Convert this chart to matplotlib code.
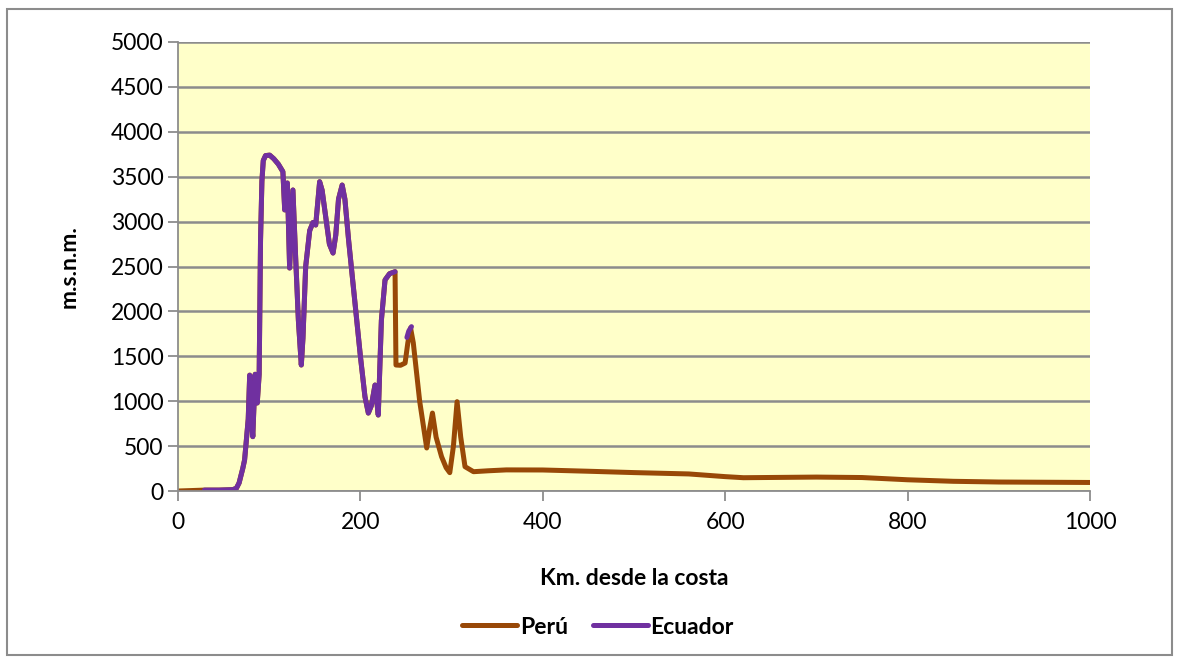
import numpy as np
import matplotlib
matplotlib.use('Agg')
from matplotlib import pyplot as plt
from matplotlib.patches import Rectangle

plt.rcParams['font.family'] = ['Lato', 'DejaVu Sans']

# Ecuador profile (km, m.s.n.m.)
ecu_km = [29, 45, 60, 64, 67, 71, 73, 75, 77, 78.6, 80, 82, 84.6, 86.9, 89, 90.5, 92, 93.5, 96, 100.5, 105, 110, 115,
          117, 117.6, 119.9, 122.4, 126, 129, 132, 135.2, 137, 140, 144.4, 148, 151, 155.3, 158, 162, 166, 170, 173,
          176, 180, 183, 187, 193, 200, 205, 208.7, 212, 216, 219.6, 223, 227, 232, 238]
ecu_m = [10, 10, 15, 30, 90, 250, 345, 570, 800, 1290, 900, 605, 1300, 980, 1300, 2795, 3450, 3680, 3735, 3740, 3700,
         3640, 3556, 3130, 3400, 3430, 2483, 3352, 2600, 1900, 1403, 1700, 2500, 2900, 2990, 2962, 3444, 3350, 3050,
         2750, 2650, 2850, 3250, 3407, 3250, 2800, 2200, 1500, 1050, 868, 950, 1180, 846, 1900, 2350, 2420, 2442]
# small Ecuador piece near 255 km
ecu2_km = [251, 253, 256]
ecu2_m = [1710, 1780, 1830]

# Perú profile
peru_start_km = [0, 15, 29]
peru_start_m = [0, 5, 10]
peru_km = [238, 239, 244, 249, 252, 255, 258, 265, 272.7, 276, 279, 283, 289, 294, 298, 302, 306, 310, 314.7,
           324, 340, 360, 400, 450, 500, 560, 600, 620, 700, 750, 800, 850, 900, 1000]
peru_m = [2442, 1403, 1400, 1425, 1650, 1815, 1650, 1000, 479, 700, 868, 600, 382, 260, 204, 500, 995, 600, 271,
          215, 225, 235, 234, 220, 205, 190, 160, 148, 155, 150, 125, 108, 100, 95]

x_ticks = [0, 200, 400, 600, 800, 1000]
y_ticks = list(range(0, 5001, 500))

c_peru = '#984807'
c_ecu = '#7030A0'

fig = plt.figure(figsize=(11.82, 6.61), dpi=100)
fig.patches.append(Rectangle((7 / 1182, 6 / 661), 1165 / 1182, 646 / 661, transform=fig.transFigure,
                             fill=False, edgecolor='#8c8c8c', linewidth=1.5))
ax = fig.add_axes([178 / 1182, (661 - 491) / 661, 912 / 1182, 449 / 661])
ax.set_facecolor('#FFFFC9')

peru_all_km = peru_start_km + ecu_km + peru_km[1:]
peru_all_m = peru_start_m + ecu_m + peru_m[1:]
lp, = ax.plot(peru_all_km, peru_all_m, color=c_peru, lw=3.6, solid_capstyle='round', solid_joinstyle='round',
              label='Perú')
le, = ax.plot(ecu_km, ecu_m, color=c_ecu, lw=3.6, solid_capstyle='round', solid_joinstyle='round',
              label='Ecuador')
ax.plot(ecu2_km, ecu2_m, color=c_ecu, lw=3.6, solid_capstyle='round')

ax.set_xlim(0, 1000)
ax.set_ylim(0, 5000)
ax.set_xticks(x_ticks)
ax.set_yticks(y_ticks)
ax.grid(axis='y', color='#8c8c8c', lw=1.8)
ax.set_axisbelow(True)
for s in ['top', 'right']:
    ax.spines[s].set_visible(False)
for s in ['left', 'bottom']:
    ax.spines[s].set_color('#8c8c8c')
    ax.spines[s].set_linewidth(1.3)
ax.tick_params(colors='#8c8c8c', labelcolor='black', labelsize=16.5, length=7, width=1.3)
ax.tick_params(axis='x', pad=8)
ax.set_xlabel('Km. desde la costa', fontsize=16.5, fontweight='bold', labelpad=25)
ax.set_ylabel('m.s.n.m.', fontsize=16.5, fontweight='bold', labelpad=22)

fig.legend(handles=[lp, le], loc='center', bbox_to_anchor=(598 / 1182, 1 - 627 / 661), ncol=2, frameon=False,
           prop={'size': 16.5, 'weight': 'bold'}, handlelength=2.4, handletextpad=0.1, columnspacing=1.1)

fig.savefig('out.png', dpi=100)
